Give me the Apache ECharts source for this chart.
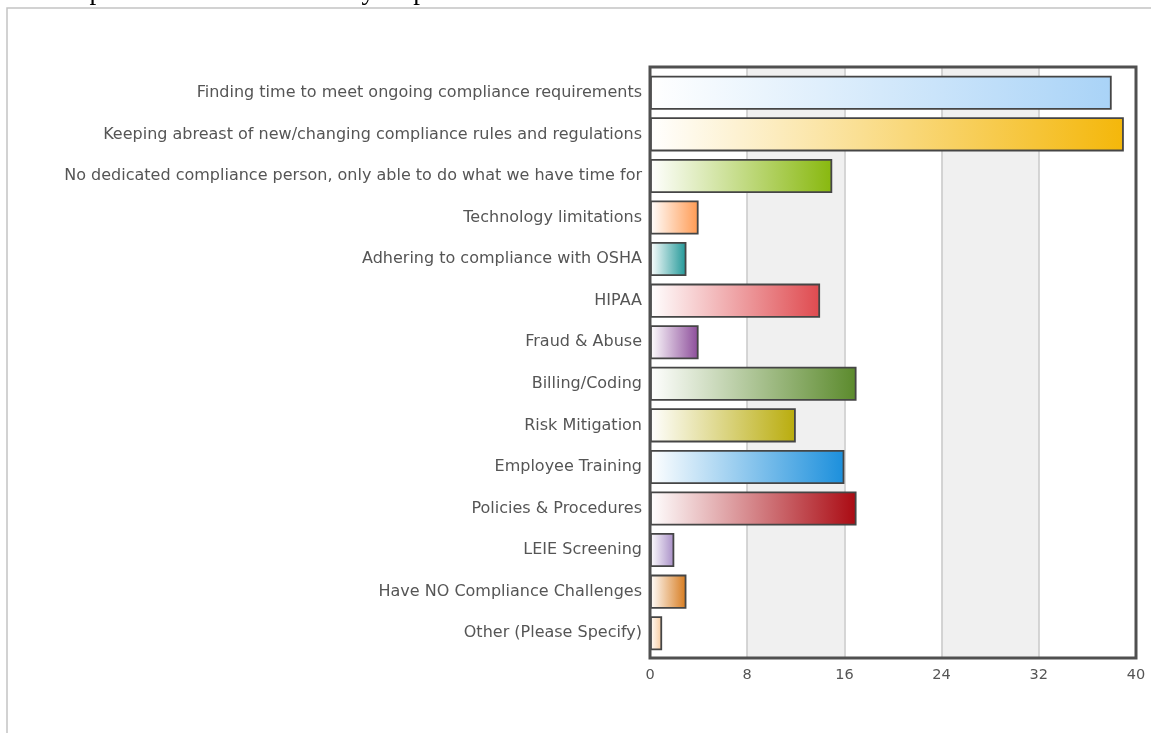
<!DOCTYPE html>
<html>
<head>
<meta charset="utf-8">
<title>Compliance challenges</title>
<script src="https://cdn.jsdelivr.net/npm/echarts@6/dist/echarts.min.js"></script>
<style>
  html, body { margin: 0; padding: 0; background: #fff; overflow: hidden; }
  #chart { width: 1151px; height: 733px; }
</style>
</head>
<body>
<div id="chart"></div>
<script>
// Survey answers, top to bottom
const categories = [
  'Finding time to meet ongoing compliance requirements',
  'Keeping abreast of new/changing compliance rules and regulations',
  'No dedicated compliance person, only able to do what we have time for',
  'Technology limitations',
  'Adhering to compliance with OSHA',
  'HIPAA',
  'Fraud & Abuse',
  'Billing/Coding',
  'Risk Mitigation',
  'Employee Training',
  'Policies & Procedures',
  'LEIE Screening',
  'Have NO Compliance Challenges',
  'Other (Please Specify)'
];

// Number of respondents per answer
const responses = [38, 39, 15, 4, 3, 14, 4, 17, 12, 16, 17, 2, 3, 1];

// Value axis ticks
const axisTicks = [0, 8, 16, 24, 32, 40];

// Colour at the right-hand end of each bar's gradient
const barColors = [
  '#a9d3f7', '#f4b70a', '#88b80e', '#ff9a52', '#1f9797', '#df4a4f', '#8c4c9a',
  '#5b8a2c', '#b9ac0c', '#1b8fdc', '#aa0a12', '#a78dc6', '#d77a1c', '#f7c89a'
];

const labelFont = '"DejaVu Sans", Verdana, sans-serif';
const xMin = axisTicks[0];
const xMax = axisTicks[axisTicks.length - 1];
const xStep = axisTicks[1] - axisTicks[0];

const chart = echarts.init(document.getElementById('chart'), null, { renderer: 'canvas' });

const barData = responses.map((v, i) => ({
  value: v,
  itemStyle: {
    color: new echarts.graphic.LinearGradient(0, 0, 1, 0, [
      { offset: 0, color: '#ffffff' },
      { offset: 1, color: barColors[i] }
    ])
  }
}));

chart.setOption({
  animation: false,
  graphic: [
    {
      id: 'page-box',
      type: 'rect',
      shape: { x: 7, y: 8, width: 1200, height: 800 },
      style: { fill: 'none', stroke: '#c4c4c4', lineWidth: 1.5 },
      z: -10
    },
    {
      id: 'heading',
      type: 'text',
      left: 43,
      top: -22,
      style: {
        text: 'compliance concerns for many respondents.',
        font: '27px "Liberation Serif", "Times New Roman", serif',
        fill: '#000'
      }
    }
  ],
  // grid 0: banded background + value scale; grid 1: the bars, inset a little
  grid: [
    { left: 650, right: 15, top: 67, bottom: 75, show: false },
    { left: 650, right: 15, top: 72, bottom: 79, show: false }
  ],
  xAxis: [
    {
      gridIndex: 0,
      type: 'value',
      min: xMin,
      max: xMax,
      interval: xStep,
      axisLine: { show: false },
      axisTick: { show: false },
      axisLabel: {
        color: '#555',
        fontSize: 14.5,
        fontFamily: labelFont,
        margin: 10
      },
      splitLine: { show: true, lineStyle: { color: '#c8c8c8', width: 1.5 } },
      splitArea: { show: true, areaStyle: { color: ['#ffffff', '#f0f0f0'] } }
    },
    {
      gridIndex: 1,
      type: 'value',
      min: xMin,
      max: xMax,
      interval: xStep,
      show: false,
      splitLine: { show: false }
    }
  ],
  yAxis: [
    {
      gridIndex: 0,
      type: 'value',
      min: 0,
      max: 1,
      show: false,
      splitLine: { show: false }
    },
    {
      gridIndex: 1,
      type: 'category',
      inverse: true,
      data: categories,
      axisLine: { show: false },
      axisTick: { show: false },
      splitLine: { show: false },
      axisLabel: {
        color: '#555',
        fontSize: 16,
        fontFamily: labelFont,
        margin: 8
      }
    }
  ],
  series: [{
    type: 'bar',
    xAxisIndex: 1,
    yAxisIndex: 1,
    data: barData,
    barCategoryGap: '18%',
    itemStyle: {
      borderColor: '#454545',
      borderWidth: 1.8
    }
  }]
});

// Dark frame around the plotting area, placed from the background grid's scales
const tl = chart.convertToPixel({ xAxisIndex: 0, yAxisIndex: 0 }, [xMin, 1]);
const br = chart.convertToPixel({ xAxisIndex: 0, yAxisIndex: 0 }, [xMax, 0]);
chart.setOption({
  graphic: [{
    id: 'plot-frame',
    type: 'rect',
    shape: { x: tl[0], y: tl[1], width: br[0] - tl[0], height: br[1] - tl[1] },
    style: { fill: 'none', stroke: '#505050', lineWidth: 3 },
    z: 10
  }]
});
</script>
</body>
</html>
